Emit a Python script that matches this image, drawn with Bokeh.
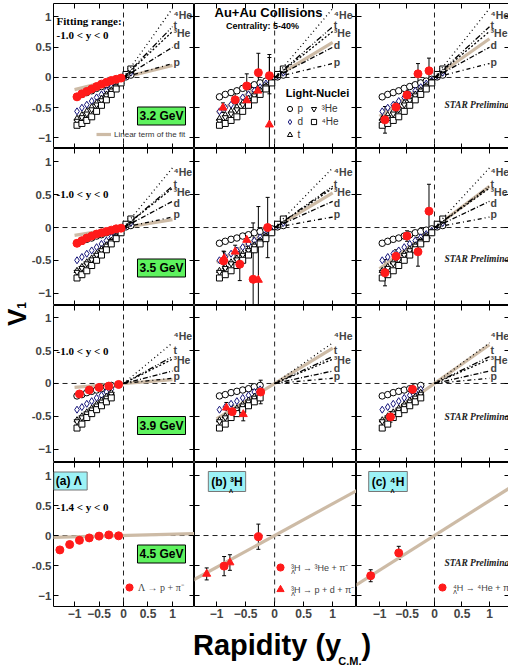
import math
from bokeh.plotting import figure
from bokeh.layouts import gridplot, row, column
from bokeh.models import (Range1d, FixedTicker, LinearAxis, Span, Label, Legend, Div, Spacer,
                          LegendItem, Whisker, ColumnDataSource, TeeHead, CustomLabelingPolicy)
from bokeh.embed import file_html
from bokeh.resources import INLINE

# ---------------- DATA ----------------
energies = ["3.2 GeV", "3.5 GeV", "3.9 GeV", "4.5 GeV"]
fit_range_text = ["-1.0 < y < 0", "-1.0 < y < 0", "-1.0 < y < 0", "-1.4 < y < 0"]
tick_vals = [-1, -0.5, 0, 0.5, 1]

# light nuclei v1 (measured points)
nuc_y_32 = [-0.95, -0.85, -0.75, -0.65, -0.55, -0.45, -0.35, -0.25, -0.15, -0.05, 0.05, 0.15]
p_32 = [-0.32, -0.28, -0.25, -0.22, -0.18, -0.15, -0.12, -0.09, -0.06, -0.03, 0.01, 0.04]
d_32 = [-0.56, -0.50, -0.45, -0.39, -0.33, -0.28, -0.22, -0.16, -0.10, -0.05, 0.03, 0.08]
t_32 = [-0.68, -0.62, -0.56, -0.49, -0.42, -0.35, -0.28, -0.21, -0.14, -0.07, 0.04, 0.11]
he3_32 = [-0.72, -0.66, -0.60, -0.53, -0.45, -0.38, -0.30, -0.22, -0.15, -0.07, 0.04, 0.12]
he4_32 = [-0.79, -0.76, -0.71, -0.65, -0.56, -0.46, -0.37, -0.28, -0.19, -0.09, 0.05, 0.14]

nuc_y_35 = [-0.95, -0.85, -0.75, -0.65, -0.55, -0.45, -0.35, -0.25, -0.15, -0.05, 0.05, 0.15]
p_35 = [-0.24, -0.21, -0.18, -0.16, -0.13, -0.11, -0.08, -0.06, -0.04, -0.02, 0.01, 0.03]
d_35 = [-0.50, -0.45, -0.40, -0.35, -0.30, -0.25, -0.20, -0.15, -0.10, -0.05, 0.03, 0.07]
t_35 = [-0.66, -0.60, -0.53, -0.47, -0.40, -0.33, -0.27, -0.20, -0.13, -0.07, 0.04, 0.10]
he3_35 = [-0.68, -0.62, -0.55, -0.49, -0.42, -0.35, -0.28, -0.21, -0.14, -0.07, 0.04, 0.11]
he4_35 = [-0.77, -0.72, -0.66, -0.58, -0.50, -0.42, -0.34, -0.25, -0.17, -0.08, 0.05, 0.13]

nuc_y_39 = [-0.95, -0.85, -0.75, -0.65, -0.55, -0.45, -0.35, -0.25]
p_39 = [-0.19, -0.17, -0.14, -0.12, -0.10, -0.08, -0.05, -0.03]
d_39 = [-0.40, -0.36, -0.31, -0.27, -0.22, -0.18, -0.13, -0.09]
t_39 = [-0.56, -0.50, -0.44, -0.38, -0.32, -0.26, -0.20, -0.14]
he3_39 = [-0.58, -0.52, -0.46, -0.40, -0.34, -0.28, -0.22, -0.16]
he4_39 = [-0.68, -0.62, -0.52, -0.46, -0.40, -0.34, -0.28, -0.22]

# fitted light-nuclei v1 at y > 0 (lines from origin to y = 1)
fit_x = [0.0, 1.0]
fit_names = ["p", "d", "\u00b3He", "t", "\u2074He"]
fit_end_32 = [0.23, 0.50, 0.76, 0.84, 1.14]
fit_end_35 = [0.16, 0.40, 0.60, 0.63, 0.91]
fit_end_39 = [0.08, 0.19, 0.37, 0.41, 0.62]
fit_label_y_32 = [0.26, 0.53, 0.73, 0.87, 1.04]
fit_label_y_35 = [0.20, 0.38, 0.54, 0.67, 0.84]
fit_label_y_39 = [0.11, 0.23, 0.36, 0.51, 0.72]

# Lambda v1
lam_y_32 = [-0.95, -0.85, -0.75, -0.65, -0.55, -0.45, -0.35, -0.25, -0.15, -0.05]
lam_v1_32 = [-0.32, -0.27, -0.23, -0.19, -0.15, -0.11, -0.08, -0.05, -0.03, -0.01]
lam_y_35 = [-0.95, -0.85, -0.75, -0.65, -0.55, -0.45, -0.35, -0.25, -0.15, -0.05]
lam_v1_35 = [-0.24, -0.20, -0.16, -0.13, -0.10, -0.08, -0.06, -0.04, -0.02, -0.01]
lam_y_39 = [-0.9, -0.7, -0.5, -0.3, -0.1]
lam_v1_39 = [-0.16, -0.10, -0.06, -0.04, -0.015]
lam_y_45 = [-1.3, -1.1, -0.9, -0.7, -0.5, -0.3, -0.1]
lam_v1_45 = [-0.24, -0.15, -0.08, -0.04, -0.01, 0.01, -0.005]

# 3-Lambda-H : 2-body (circles) and 3-body (triangles)
h3b2_y_32 = [-0.68, -0.48, -0.28, -0.09]
h3b2_v1_32 = [-0.37, -0.14, 0.08, 0.03]
h3b2_err_32 = [0.15, 0.20, 0.32, 0.30]
h3b3_y_32 = [-0.89, -0.48, -0.29, -0.09]
h3b3_v1_32 = [-0.50, -0.38, -0.22, -0.78]
h3b3_err_32 = [0.08, 0.10, 0.10, 1.16]

h3b2_y_35 = [-0.88, -0.60, -0.37, -0.12]
h3b2_v1_35 = [-0.51, -0.56, -0.79, 0.00]
h3b2_err_35 = [0.15, 0.25, 0.86, 0.46]
h3b3_y_35 = [-0.87, -0.68, -0.48, -0.28]
h3b3_v1_35 = [-0.47, -0.37, -0.19, -0.80]
h3b3_err_35 = [0.10, 0.10, 0.10, 1.12]

h3b2_y_39 = [-0.73, -0.24]
h3b2_v1_39 = [-0.43, -0.13]
h3b2_err_39 = [0.10, 0.18]
h3b3_y_39 = [-0.83, -0.54]
h3b3_v1_39 = [-0.37, -0.47]
h3b3_err_39 = [0.08, 0.10]

h3b2_y_45 = [-0.87, -0.28]
h3b2_v1_45 = [-0.51, -0.02]
h3b2_err_45 = [0.16, 0.21]
h3b3_y_45 = [-1.17, -0.77]
h3b3_v1_45 = [-0.64, -0.45]
h3b3_err_45 = [0.10, 0.13]

# 4-Lambda-H
h4_y_32 = [-0.9, -0.7, -0.5, -0.3, -0.1]
h4_v1_32 = [-0.70, -0.49, -0.29, 0.06, 0.11]
h4_err_32 = [0.22, 0.08, 0.08, 0.17, 0.21]
h4_y_35 = [-0.9, -0.7, -0.5, -0.3, -0.1]
h4_v1_35 = [-0.69, -0.44, -0.13, -0.37, 0.25]
h4_err_35 = [0.20, 0.10, 0.08, 0.22, 0.41]
h4_y_39 = [-0.8, -0.4]
h4_v1_39 = [-0.51, -0.09]
h4_err_39 = [0.08, 0.06]
h4_y_45 = [-1.16, -0.65]
h4_v1_45 = [-0.67, -0.29]
h4_err_45 = [0.10, 0.11]

# slopes of the linear term of the fit (per energy)
lin_slope_lam = [0.20, 0.12, 0.06, 0.022]
lin_slope_h3 = [0.58, 0.53, 0.54, 0.53]
lin_slope_h4 = [0.64, 0.63, 0.59, 0.58]
lin_x_range = [[-1.0, 1.0], [-1.0, 1.0], [-1.0, 1.0], [-1.5, 1.5]]

# ---------------- LAYOUT / STYLE ----------------
SANS = "Liberation Sans"
SERIF = "Liberation Serif"
RED = "#ff1a1a"
TAN = "#cdbba6"
GREEN = "#5ef25e"
CYAN = "#9cf2f6"

LABEL_COL_W = 28          # column holding the rotated V1 title
LEFT_B = 24               # left border of first-column panels (tick labels)
FW = [141, 162, 153]
FH = [145, 157, 157, 144]
X0 = [52, 193, 355]
Y0 = [3, 148, 305, 462]
XR = [(-1.43, 1.45), (-1.38, 1.41), (-1.418, 1.364)]
YR = [(-1.174, 1.223), (-1.19, 1.206), (-1.206, 1.19), (-1.183, 1.217)]
TOP_B = 3
BOTTOM_B = 16

NO_LABELS = CustomLabelingPolicy(code="return []")


def to_data(r, c, X, Y):
    x = XR[c][0] + (X - X0[c]) / FW[c] * (XR[c][1] - XR[c][0])
    y = YR[r][1] - (Y - Y0[r]) / FH[r] * (YR[r][1] - YR[r][0])
    return x, y


def style_axis(ax, show, kind):
    ax.ticker = FixedTicker(ticks=tick_vals)
    ax.major_tick_in = 5
    ax.major_tick_out = 0
    ax.minor_tick_line_color = None
    ax.axis_line_color = None
    ax.major_tick_line_color = "black"
    ax.major_tick_line_width = 1
    if show:
        if kind == "x":
            ax.major_label_overrides = {-1: "\u22121", -0.5: "\u22120.5", 0: "0", 0.5: "0.5", 1: "1"}
            ax.major_label_standoff = 2
            ax.major_label_text_font_size = "12px"
        else:
            ax.major_label_overrides = {-1: "\u22121", -0.5: "-0.5", 0: "0", 0.5: "0.5", 1: "1"}
            ax.major_label_standoff = 2
            ax.major_label_text_font_size = "11.5px"
        ax.major_label_text_font = SANS
        ax.major_label_text_font_style = "bold"
    else:
        ax.major_label_text_font_size = "0px"
        ax.major_label_standoff = 0
        ax.major_label_policy = NO_LABELS


def add_label(p, r, c, X, Y, text, size, font=SANS, style="bold", align="left",
              baseline="middle", color="black", **kw):
    x, y = to_data(r, c, X, Y)
    lab = Label(x=x, y=y, text=text, text_font=font, text_font_style=style,
                text_font_size=f"{size}px", text_align=align, text_baseline=baseline,
                text_color=color, **kw)
    p.add_layout(lab)
    return lab


def errbars(p, xs, ys, es, color="black"):
    src = ColumnDataSource(dict(x=xs, lo=[y - e for y, e in zip(ys, es)],
                                hi=[y + e for y, e in zip(ys, es)]))
    w = Whisker(base="x", lower="lo", upper="hi", source=src, line_color=color,
                line_width=1,
                upper_head=TeeHead(size=4, line_color=color, line_width=1),
                lower_head=TeeHead(size=4, line_color=color, line_width=1))
    p.add_layout(w)


NUC = [
    (nuc_y_32, [p_32, d_32, t_32, he3_32, he4_32]),
    (nuc_y_35, [p_35, d_35, t_35, he3_35, he4_35]),
    (nuc_y_39, [p_39, d_39, t_39, he3_39, he4_39]),
]
FIT_END = [fit_end_32, fit_end_35, fit_end_39]
FIT_LAB = [fit_label_y_32, fit_label_y_35, fit_label_y_39]
LAM = [(lam_y_32, lam_v1_32), (lam_y_35, lam_v1_35), (lam_y_39, lam_v1_39), (lam_y_45, lam_v1_45)]
H3 = [
    (h3b2_y_32, h3b2_v1_32, h3b2_err_32, h3b3_y_32, h3b3_v1_32, h3b3_err_32),
    (h3b2_y_35, h3b2_v1_35, h3b2_err_35, h3b3_y_35, h3b3_v1_35, h3b3_err_35),
    (h3b2_y_39, h3b2_v1_39, h3b2_err_39, h3b3_y_39, h3b3_v1_39, h3b3_err_39),
    (h3b2_y_45, h3b2_v1_45, h3b2_err_45, h3b3_y_45, h3b3_v1_45, h3b3_err_45),
]
H4 = [(h4_y_32, h4_v1_32, h4_err_32), (h4_y_35, h4_v1_35, h4_err_35),
      (h4_y_39, h4_v1_39, h4_err_39), (h4_y_45, h4_v1_45, h4_err_45)]
SLOPES = [lin_slope_lam, lin_slope_h3, lin_slope_h4]

nuc_markers = ["circle", "diamond", "triangle", "inverted_triangle", "square"]
nuc_sizes = [6.5, 7, 6, 6, 6]
nuc_colors = ["black", "#14147a", "black", "black", "black"]
fit_dash = ["4 3 1 3", "5 2 1 2", "2 2", "6 2 1 2 1 2", "1 3"]

ENERGY_BOX_Y = [115.5, 267.5, 425, 553.5]
FITRANGE_Y = [34, 193, 350, 506]
STAR_Y = [104, 258, 416, 562]


def make_panel(r, c):
    p = figure(frame_width=FW[c], frame_height=FH[r],
               x_range=Range1d(*XR[c]), y_range=Range1d(*YR[r]),
               output_backend="svg", toolbar_location=None,
               min_border_left=LEFT_B if c == 0 else 0, min_border_right=0,
               min_border_top=TOP_B if r == 0 else 0,
               min_border_bottom=BOTTOM_B if r == 3 else 0,
               background_fill_color="white", border_fill_color="white")
    p.outline_line_color = "black"
    p.outline_line_width = 1
    p.grid.visible = False
    style_axis(p.xaxis[0], r == 3, "x")
    style_axis(p.yaxis[0], c == 0, "y")
    for loc in ("above", "right"):
        ax = LinearAxis()
        style_axis(ax, False, "x")
        p.add_layout(ax, loc)

    p.add_layout(Span(location=0, dimension="width", line_dash="5 4", line_color="#222",
                      line_width=1, level="underlay"))
    p.add_layout(Span(location=0, dimension="height", line_dash="5 4", line_color="#222",
                      line_width=1, level="underlay"))

    # linear term of the fit
    xs = lin_x_range[r]
    slope = SLOPES[c][r]
    tan_r = p.line(xs, [slope * x for x in xs], line_color=TAN, line_width=3.2)

    nuc_r = []
    if r < 3:
        ny, series = NUC[r]
        for vals, mk, sz, col in zip(series, nuc_markers, nuc_sizes, nuc_colors):
            rr = p.scatter(ny, vals, marker=mk, size=sz, fill_color="white",
                           line_color=col, line_width=1)
            nuc_r.append(rr)
        for end, dash, ly, name in zip(FIT_END[r], fit_dash, FIT_LAB[r], fit_names):
            p.line(fit_x, [0.0, end], line_color="black", line_width=1.3, line_dash=dash)
            p.add_layout(Label(x=1.02, y=ly, text=name, text_font=SANS,
                               text_font_style="bold", text_font_size="10.5px",
                               text_baseline="middle", text_align="left"))

    red_r = []
    if c == 0:
        lx, lv = LAM[r]
        red_r.append(p.scatter(lx, lv, marker="circle", size=8, fill_color=RED, line_color=RED))
    elif c == 1:
        x2, v2, e2, x3, v3, e3 = H3[r]
        errbars(p, x2, v2, e2)
        errbars(p, x3, v3, e3)
        red_r.append(p.scatter(x2, v2, marker="circle", size=8, fill_color=RED, line_color=RED))
        red_r.append(p.scatter(x3, v3, marker="triangle", size=8, fill_color=RED, line_color=RED))
    else:
        x4, v4, e4 = H4[r]
        errbars(p, x4, v4, e4)
        red_r.append(p.scatter(x4, v4, marker="circle", size=8, fill_color=RED, line_color=RED))

    # ----- annotations -----
    if c == 0:
        add_label(p, r, c, 160, ENERGY_BOX_Y[r], energies[r], 12, align="center",
                  background_fill_color=GREEN, border_line_color="black", padding=2)
        add_label(p, r, c, 55, FITRANGE_Y[r], fit_range_text[r], 11, font=SERIF)
    if c == 2:
        add_label(p, r, c, 443, STAR_Y[r], "STAR Preliminary", 9.5, font=SERIF,
                  style="bold italic", color="#222")

    if r == 0 and c == 0:
        add_label(p, r, c, 55, 20, "Fitting range:", 11, font=SERIF)
        leg = Legend(items=[LegendItem(label="Linear term of the fit", renderers=[tan_r])],
                     location=(43, 9), glyph_width=15, glyph_height=10, label_height=10,
                     label_standoff=3, padding=0, margin=0, spacing=0,
                     label_text_font=SANS, label_text_font_size="8px",
                     label_text_color="#333", background_fill_alpha=0, border_line_alpha=0)
        p.add_layout(leg)
    if r == 0 and c == 1:
        add_label(p, r, c, 267, 11.5, "Au+Au Collisions", 13, align="center")
        add_label(p, r, c, 261, 25, "Centrality: 5-40%", 9, align="center")
        add_label(p, r, c, 316, 92, "Light-Nuclei", 11, align="center")
        nm = ["p", "d", "t", "\u00b3He", "\u2074He"]
        common = dict(glyph_width=13, glyph_height=13, label_height=13, label_standoff=2,
                      padding=0, margin=0, spacing=0, label_text_font=SANS,
                      label_text_font_size="10px", label_text_color="#333",
                      background_fill_alpha=0, border_line_alpha=0)
        legA = Legend(items=[LegendItem(label=nm[i], renderers=[nuc_r[i]]) for i in (0, 1, 2)],
                      location=(88.5, 7.5), **common)
        legB = Legend(items=[LegendItem(label=nm[i], renderers=[nuc_r[i]]) for i in (3, 4)],
                      location=(112.5, 20.5), **common)
        p.add_layout(legA)
        p.add_layout(legB)

    if r == 3:
        red_common = dict(glyph_width=18, glyph_height=20, label_height=20, padding=0,
                          margin=0, spacing=2, background_fill_alpha=0, border_line_alpha=0)
        if c == 0:
            add_label(p, r, c, 69, 480.5, "(a)  \u039b", 12, align="center",
                      background_fill_color=CYAN, border_line_color="#777", padding=2)
            leg = Legend(items=[LegendItem(label="\u039b \u2192 p + \u03c0\u207b", renderers=[red_r[0]])],
                         location=(67, 9), label_standoff=0, label_text_font=SERIF,
                         label_text_font_size="10px", **red_common)
            p.add_layout(leg)
        elif c == 1:
            add_label(p, r, c, 225.5, 481, "(b) \u00b3H", 12, align="center",
                      background_fill_color=CYAN, border_line_color="#777", padding=3)
            add_label(p, r, c, 229.5, 490, "\u039b", 6, align="center")
            leg = Legend(items=[LegendItem(label="\u00b3H \u2192 \u00b3He + \u03c0\u207b", renderers=[red_r[0]]),
                                LegendItem(label="\u00b3H \u2192 p + d + \u03c0\u207b", renderers=[red_r[1]])],
                         location=(77, 7), label_standoff=2, label_text_font=SANS,
                         label_text_font_size="9px", **red_common)
            p.add_layout(leg)
            add_label(p, r, c, 291.5, 571.5, "\u039b", 5.5, style="normal", align="center")
            add_label(p, r, c, 291.5, 593.5, "\u039b", 5.5, style="normal", align="center")
        else:
            add_label(p, r, c, 386.5, 481, "(c) \u2074H", 12, align="center",
                      background_fill_color=CYAN, border_line_color="#777", padding=3)
            add_label(p, r, c, 391, 490, "\u039b", 6, align="center")
            leg = Legend(items=[LegendItem(label="\u2074H \u2192 \u2074He + \u03c0\u207b", renderers=[red_r[0]])],
                         location=(77, 9), label_standoff=2, label_text_font=SANS,
                         label_text_font_size="9px", **red_common)
            p.add_layout(leg)
            add_label(p, r, c, 453.5, 591.5, "\u039b", 5.5, style="normal", align="center")
    return p


rows = [[make_panel(r, c) for c in range(3)] for r in range(4)]
grid = gridplot(rows, toolbar_location=None)

GRID_H = TOP_B + sum(FH) + BOTTOM_B

v1_title = Div(width=LABEL_COL_W, height=GRID_H, margin=0,
               styles={"padding": "0px", "margin": "0px"}, text=(
    '<div style="position:relative;width:28px;height:%dpx;">'
    '<div style="position:absolute;left:4px;top:326px;transform:rotate(-90deg);'
    'transform-origin:left top;white-space:nowrap;font-family:\'Liberation Sans\';'
    'font-weight:bold;font-size:26px;line-height:26px;">V'
    '<span style="font-size:12px;">1</span></div></div>' % GRID_H))

x_title = Div(width=300, height=47, margin=0, text=(
    '<div style="margin-top:6px;white-space:nowrap;font-family:\'Liberation Sans\';'
    'font-weight:bold;font-size:29px;line-height:34px;">Rapidity (y'
    '<span style="font-size:11px;position:relative;top:10px;margin-left:-3px;">C.M.</span>)'
    '</div>'))

layout = column(row(v1_title, grid), row(Spacer(width=193, height=47, margin=0), x_title))

open("out.html", "w").write(file_html(layout, INLINE))
